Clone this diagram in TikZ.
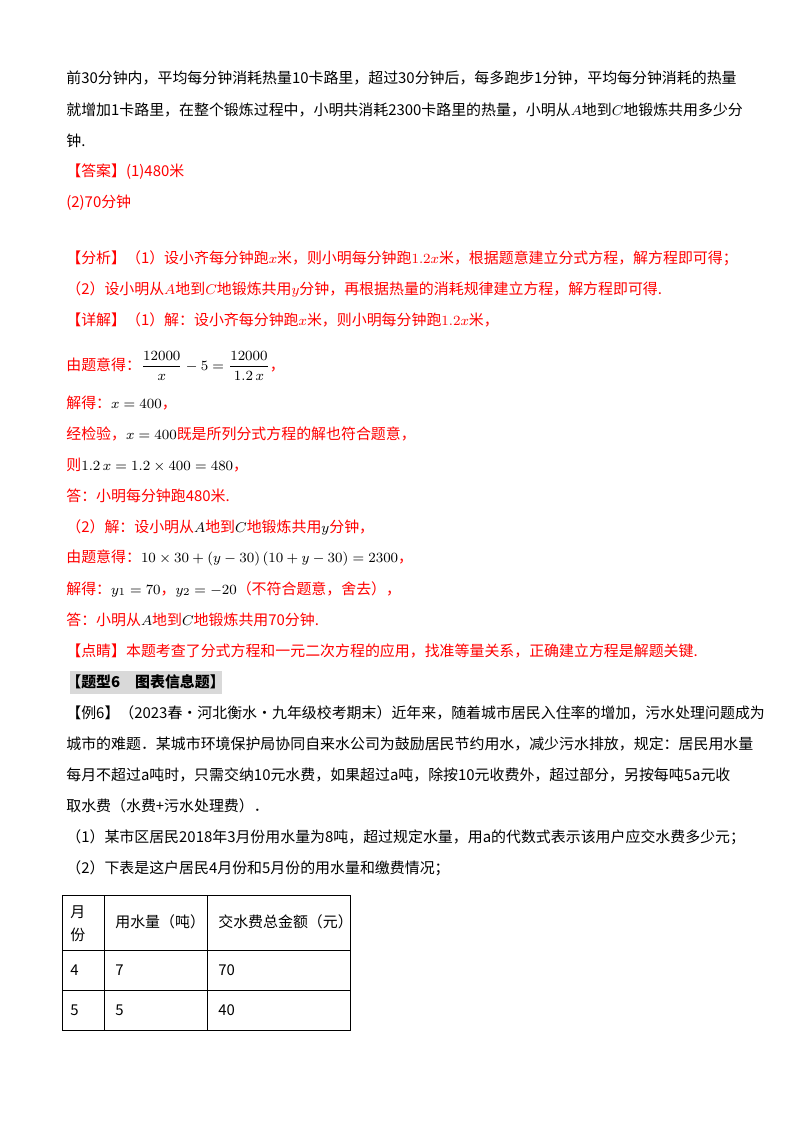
\documentclass[tikz,border=0pt]{standalone}
\usepackage{amsmath}
\usepackage{fontspec}
\setmainfont{Liberation Serif}
\newfontfamily\cjk{Noto Sans CJK SC}
\usetikzlibrary{positioning}
\definecolor{ansred}{RGB}{255,0,0}
\tikzset{
  line/.style={anchor=west,inner sep=0pt,font=\cjk\fontsize{8.5}{11}\selectfont},
  redline/.style={line,text=ansred},
  cell/.style={anchor=west,inner sep=0pt,font=\cjk\fontsize{8.5}{11}\selectfont}
}
\begin{document}
\begin{tikzpicture}[x=0.02cm,y=-0.02cm]
  \useasboundingbox (0,0) rectangle (800,1132);
  % problem text
  \node[line] (l1) at (66,78) {前30分钟内，平均每分钟消耗热量10卡路里，超过30分钟后，每多跑步1分钟，平均每分钟消耗的热量};
  \node[line] (l2) at (66,110) {就增加1卡路里，在整个锻炼过程中，小明共消耗2300卡路里的热量，小明从$A$地到$C$地锻炼共用多少分};
  \node[line] (l3) at (66,141) {钟.};
  % answer
  \node[redline] (a1) at (66,172) {【答案】(1)480米};
  \node[redline] (a2) at (66,203) {(2)70分钟};
  \node[redline] (f1) at (66,258) {【分析】（1）设小齐每分钟跑$x$米，则小明每分钟跑$1.2x$米，根据题意建立分式方程，解方程即可得；};
  \node[redline] (f2) at (66,289) {（2）设小明从$A$地到$C$地锻炼共用$y$分钟，再根据热量的消耗规律建立方程，解方程即可得.};
  \node[redline] (d1) at (66,320) {【详解】（1）解：设小齐每分钟跑$x$米，则小明每分钟跑$1.2x$米，};
  \node[redline] (d2) at (66,366) {由题意得：\textcolor{black}{$\dfrac{12000}{x}-5=\dfrac{12000}{1.2\,x}$}，};
  \node[redline] (d3) at (66,403) {解得：\textcolor{black}{$x=400$}，};
  \node[redline] (d4) at (66,434) {经检验，\textcolor{black}{$x=400$}既是所列分式方程的解也符合题意，};
  \node[redline] (d5) at (66,465) {则\textcolor{black}{$1.2\,x=1.2\times400=480$}，};
  \node[redline] (d6) at (66,496) {答：小明每分钟跑480米.};
  \node[redline] (d7) at (66,527) {（2）解：设小明从\textcolor{black}{$A$}地到\textcolor{black}{$C$}地锻炼共用\textcolor{black}{$y$}分钟，};
  \node[redline] (d8) at (66,558) {由题意得：\textcolor{black}{$10\times30+\left(y-30\right)\left(10+y-30\right)=2300$}，};
  \node[redline] (d9) at (66,589) {解得：\textcolor{black}{$y_1=70$}，\textcolor{black}{$y_2=-20$}（不符合题意，舍去），};
  \node[redline] (d10) at (66,620) {答：小明从\textcolor{black}{$A$}地到\textcolor{black}{$C$}地锻炼共用70分钟.};
  \node[redline] (p1) at (66,651) {【点睛】本题考查了分式方程和一元二次方程的应用，找准等量关系，正确建立方程是解题关键.};
  % new section
  \fill[black!15] (70,671) rectangle (222,694);
  \node[line,font=\cjk\bfseries\fontsize{8.5}{11}\selectfont] (h1) at (66,682) {【题型6\quad 图表信息题】};
  \node[line] (e1) at (66,713) {【例6】（2023春·河北衡水·九年级校考期末）近年来，随着城市居民入住率的增加，污水处理问题成为};
  \node[line] (e2) at (66,744) {城市的难题．某城市环境保护局协同自来水公司为鼓励居民节约用水，减少污水排放，规定：居民用水量};
  \node[line] (e3) at (66,775) {每月不超过a吨时，只需交纳10元水费，如果超过a吨，除按10元收费外，超过部分，另按每吨5a元收};
  \node[line] (e4) at (66,806) {取水费（水费+污水处理费）．};
  \node[line] (e5) at (66,837) {（1）某市区居民2018年3月份用水量为8吨，超过规定水量，用a的代数式表示该用户应交水费多少元；};
  \node[line] (e6) at (66,868) {（2）下表是这户居民4月份和5月份的用水量和缴费情况；};
  % table
  \draw[line width=0.5pt] (62,895) rectangle (350,1030);
  \draw[line width=0.5pt] (62,950) -- (350,950) (62,990) -- (350,990)
    (104,895) -- (104,1030) (207,895) -- (207,1030);
  \node[cell] (t1) at (70,912) {月};
  \node[cell] (t2) at (70,935) {份};
  \node[cell] (t3) at (115,922) {用水量（吨）};
  \node[cell] (t4) at (218,922) {交水费总金额（元）};
  \node[cell] (r1) at (70,970) {4};
  \node[cell] (r2) at (115,970) {7};
  \node[cell] (r3) at (218,970) {70};
  \node[cell] (s1) at (70,1010) {5};
  \node[cell] (s2) at (115,1010) {5};
  \node[cell] (s3) at (218,1010) {40};
\end{tikzpicture}
\end{document}
